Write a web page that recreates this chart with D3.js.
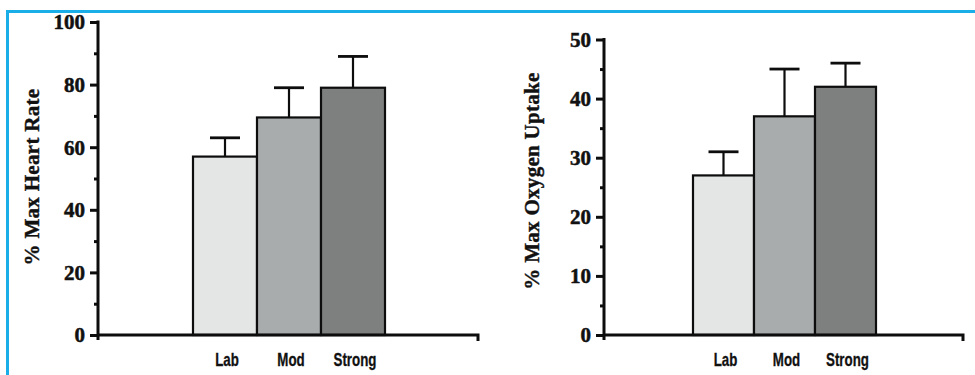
<!DOCTYPE html>
<html>
<head>
<meta charset="utf-8">
<script src="https://cdn.jsdelivr.net/npm/d3@7/dist/d3.min.js"></script>
<style>
  html, body { margin: 0; padding: 0; background: #fff; }
  svg { display: block; }
  .tick-label { font-family: "Liberation Serif", "Times New Roman", serif; font-weight: bold; font-size: 21px; fill: #111; stroke: #111; stroke-width: 0.5px; }
  .axis-title { font-family: "Liberation Serif", "Times New Roman", serif; font-weight: bold; font-size: 21px; fill: #111; stroke: #111; stroke-width: 0.4px; letter-spacing: 0.3px; }
  .cat-label { font-family: "Liberation Sans", Arial, sans-serif; font-weight: bold; font-size: 18px; fill: #111; stroke: #111; stroke-width: 0.3px; }
</style>
</head>
<body>
<svg id="chart" width="975" height="375"></svg>
<script>
// Exercise intensity groups
const categories = ["Lab", "Mod", "Strong"];
const barColors = ["#e4e5e5", "#a9acad", "#7e807f"];

// Heart rate, % of maximum (mean and upper error)
const heartRate = [57, 69.5, 79];
const heartRateErr = [6, 9.5, 10];
const heartRateTicks = [0, 20, 40, 60, 80, 100];
const heartRateMinor = [10, 30, 50, 70, 90];

// Oxygen uptake, % of maximum (mean and upper error)
const oxygenUptake = [27, 37, 42];
const oxygenUptakeErr = [4, 8, 4];
const oxygenTicks = [0, 10, 20, 30, 40, 50];
const oxygenMinor = [5, 15, 25, 35, 45];

const svg = d3.select("#chart");
const ink = "#0d0d0d";

// Frame lines
svg.append("line").attr("x1", 7.5).attr("x2", 975).attr("y1", 11.5).attr("y2", 11.5)
  .attr("stroke", "#19aee8").attr("stroke-width", 3);
svg.append("line").attr("x1", 7.5).attr("x2", 7.5).attr("y1", 10).attr("y2", 375)
  .attr("stroke", "#19aee8").attr("stroke-width", 3);

function panel(opts) {
  const g = svg.append("g");
  const y = d3.scaleLinear().domain(opts.domain).range([335, opts.yTop]);
  const x = d3.scaleBand().domain(categories).range(opts.barRange).padding(0);

  // Bars
  g.selectAll("rect.bar").data(categories).join("rect")
    .attr("class", "bar")
    .attr("x", d => x(d))
    .attr("width", x.bandwidth())
    .attr("y", (d, i) => y(opts.values[i]))
    .attr("height", (d, i) => y(0) - y(opts.values[i]))
    .attr("fill", (d, i) => barColors[i])
    .attr("stroke", ink)
    .attr("stroke-width", 2.2);

  // Error bars (upper only)
  const eb = g.selectAll("g.err").data(categories).join("g").attr("class", "err");
  eb.append("line")
    .attr("x1", d => x(d) + x.bandwidth() / 2)
    .attr("x2", d => x(d) + x.bandwidth() / 2)
    .attr("y1", (d, i) => y(opts.values[i]))
    .attr("y2", (d, i) => y(opts.values[i] + opts.errors[i]))
    .attr("stroke", ink).attr("stroke-width", 2.2);
  eb.append("line")
    .attr("x1", d => x(d) + x.bandwidth() / 2 - 15)
    .attr("x2", d => x(d) + x.bandwidth() / 2 + 15)
    .attr("y1", (d, i) => y(opts.values[i] + opts.errors[i]))
    .attr("y2", (d, i) => y(opts.values[i] + opts.errors[i]))
    .attr("stroke", ink).attr("stroke-width", 2.8);

  // Y axis with major and minor ticks
  const ax = opts.axisX;
  const yAxis = d3.axisLeft(y).tickValues(opts.ticks).tickSize(8).tickFormat("");
  const yg = g.append("g").attr("transform", `translate(${ax},0)`).call(yAxis);
  yg.select(".domain").remove();
  yg.selectAll(".tick line").attr("stroke", ink).attr("stroke-width", 3);
  const yMinor = d3.axisLeft(y).tickValues(opts.minor).tickSize(4).tickFormat("");
  const ym = g.append("g").attr("transform", `translate(${ax},0)`).call(yMinor);
  ym.select(".domain").remove();
  ym.selectAll(".tick line").attr("stroke", ink).attr("stroke-width", 3);
  g.append("line").attr("x1", ax).attr("x2", ax)
    .attr("y1", y(opts.domain[1]) - 1.5).attr("y2", 340)
    .attr("stroke", ink).attr("stroke-width", 3);

  g.selectAll("text.tick-label").data(opts.ticks).join("text")
    .attr("class", "tick-label")
    .attr("x", ax - 13)
    .attr("y", d => y(d))
    .attr("dy", "0.35em")
    .attr("text-anchor", "end")
    .text(d => d);

  // X axis baseline with end tick
  g.append("path")
    .attr("d", `M${ax},${y(0)}H${opts.xEnd}V${y(0) + 6}`)
    .attr("fill", "none").attr("stroke", ink).attr("stroke-width", 3);

  // Category labels, horizontally condensed
  g.selectAll("text.cat-label").data(categories).join("text")
    .attr("class", "cat-label")
    .attr("transform", d => `translate(${x(d) + x.bandwidth() / 2 + 2},366) scale(0.74,1)`)
    .attr("text-anchor", "middle")
    .text(d => d);

  // Y title
  g.append("text")
    .attr("class", "axis-title")
    .attr("transform", `translate(${opts.titleX},${opts.titleY}) rotate(-90)`)
    .attr("text-anchor", "middle")
    .attr("dominant-baseline", "central")
    .text(opts.title);
}

panel({
  domain: [0, 100], yTop: 22, barRange: [193, 385], axisX: 98, xEnd: 478,
  values: heartRate, errors: heartRateErr,
  ticks: heartRateTicks, minor: heartRateMinor,
  title: "% Max Heart Rate", titleX: 32, titleY: 177
});

panel({
  domain: [0, 50], yTop: 39.5, barRange: [693, 876], axisX: 604, xEnd: 963,
  values: oxygenUptake, errors: oxygenUptakeErr,
  ticks: oxygenTicks, minor: oxygenMinor,
  title: "% Max Oxygen Uptake", titleX: 532, titleY: 181
});
</script>
</body>
</html>
